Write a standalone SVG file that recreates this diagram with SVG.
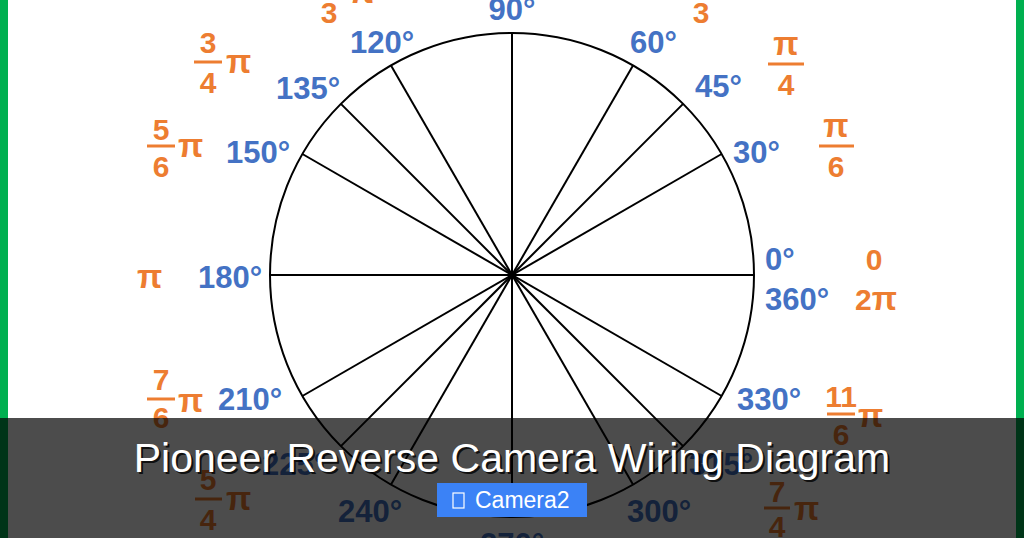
<svg xmlns="http://www.w3.org/2000/svg" width="1024" height="538" viewBox="0 0 1024 538">
<style>
.deg{font-family:"Liberation Sans",Arial,sans-serif;font-weight:bold;font-size:31px;fill:#4472C4}
.rad{font-family:"Liberation Sans",Arial,sans-serif;font-weight:bold;font-size:30px;fill:#ED7D31;text-anchor:middle}
.pi{font-family:"Liberation Sans",Arial,sans-serif;font-weight:bold;font-size:33px;fill:#ED7D31}
.bar{stroke:#ED7D31;stroke-width:3}
.ray{stroke:#000;stroke-width:2;fill:none}
.title{font-family:"Liberation Sans",Arial,sans-serif;font-size:41px;text-anchor:middle}
</style>
<rect width="1024" height="538" fill="#fff"/>
<rect x="0" y="0" width="8" height="538" fill="#00B050"/>
<rect x="1016" y="0" width="8" height="538" fill="#00B050"/>

<g id="connectors">
<circle class="ray" cx="512" cy="275" r="242"/>
<line class="ray" x1="270" y1="275" x2="754" y2="275"/>
<line class="ray" x1="721.6" y1="154" x2="302.4" y2="396"/>
<line class="ray" x1="683.1" y1="103.9" x2="340.9" y2="446.1"/>
<line class="ray" x1="633" y1="65.4" x2="391" y2="484.6"/>
<line class="ray" x1="512" y1="33" x2="512" y2="517"/>
<line class="ray" x1="391" y1="65.4" x2="633" y2="484.6"/>
<line class="ray" x1="340.9" y1="103.9" x2="683.1" y2="446.1"/>
<line class="ray" x1="302.4" y1="154" x2="721.6" y2="396"/>
</g>

<g id="a0"><text class="deg" x="765" y="270">0°</text><text class="rad" x="874" y="270">0</text></g>
<g id="a360"><text class="deg" x="765" y="310">360°</text><text class="rad" x="855" y="310" style="text-anchor:start">2<tspan class="pi">π</tspan></text></g>
<g id="a30"><text class="deg" x="733" y="163">30°</text>
<text class="pi" x="836" y="137" text-anchor="middle">π</text><line class="bar" x1="819" y1="146" x2="854" y2="146"/><text class="rad" x="836" y="177">6</text></g>
<g id="a45"><text class="deg" x="695" y="97">45°</text>
<text class="pi" x="786" y="55" text-anchor="middle">π</text><line class="bar" x1="768" y1="64" x2="804" y2="64"/><text class="rad" x="786" y="95">4</text></g>
<g id="a60"><text class="deg" x="630" y="53">60°</text><text class="rad" x="701" y="23">3</text></g>
<g id="a90"><text class="deg" x="512" y="20" text-anchor="middle">90°</text></g>
<g id="a120"><text class="deg" x="350" y="53">120°</text><text class="rad" x="329" y="23">3</text><text class="pi" x="349" y="3">π</text></g>
<g id="a135"><text class="deg" x="276" y="99">135°</text>
<text class="rad" x="208" y="53">3</text><line class="bar" x1="194" y1="62" x2="222" y2="62"/><text class="rad" x="208" y="93">4</text><text class="pi" x="226" y="73">π</text></g>
<g id="a150"><text class="deg" x="226" y="163">150°</text>
<text class="rad" x="161" y="140">5</text><line class="bar" x1="147" y1="146" x2="175" y2="146"/><text class="rad" x="161" y="177">6</text><text class="pi" x="178" y="157">π</text></g>
<g id="a180"><text class="deg" x="198" y="288">180°</text><text class="pi" x="137" y="288">π</text></g>
<g id="a210"><text class="deg" x="218" y="410">210°</text>
<text class="rad" x="161" y="390">7</text><line class="bar" x1="147" y1="399" x2="175" y2="399"/><text class="rad" x="161" y="428">6</text><text class="pi" x="178" y="412">π</text></g>
<g id="a225"><text class="deg" x="262" y="475">225°</text>
<text class="rad" x="208" y="490">5</text><line class="bar" x1="195" y1="499" x2="222" y2="499"/><text class="rad" x="208" y="530">4</text><text class="pi" x="226" y="510">π</text></g>
<g id="a240"><text class="deg" x="338" y="522">240°</text></g>
<g id="a270"><text class="deg" x="512" y="555" text-anchor="middle">270°</text></g>
<g id="a300"><text class="deg" x="627" y="522">300°</text></g>
<g id="a315"><text class="deg" x="689" y="475">315°</text>
<text class="rad" x="777" y="502">7</text><line class="bar" x1="764" y1="508" x2="790" y2="508"/><text class="rad" x="777" y="537">4</text><text class="pi" x="794" y="520">π</text></g>
<g id="a330"><text class="deg" x="737" y="410">330°</text>
<text class="rad" x="841" y="407">11</text><line class="bar" x1="827" y1="414" x2="855" y2="414"/><text class="rad" x="841" y="445">6</text><text class="pi" x="858" y="427">π</text></g>

<rect id="overlay" x="0" y="418" width="1024" height="120" fill="#000" fill-opacity="0.7"/>

<g id="title">
<text class="title" x="514" y="474" fill="#000" fill-opacity="0.8">Pioneer Reverse Camera Wiring Diagram</text>
<text class="title" x="512" y="472" fill="#fff">Pioneer Reverse Camera Wiring Diagram</text>
</g>
<g id="button">
<rect x="437" y="483" width="150" height="34" fill="#3B82F6"/>
<rect x="453" y="493" width="11" height="15" fill="none" stroke="#fff" stroke-width="1.2"/>
<text x="475" y="508" font-family="'Liberation Sans',Arial,sans-serif" font-size="23" fill="#fff">Camera2</text>
</g>
</svg>
